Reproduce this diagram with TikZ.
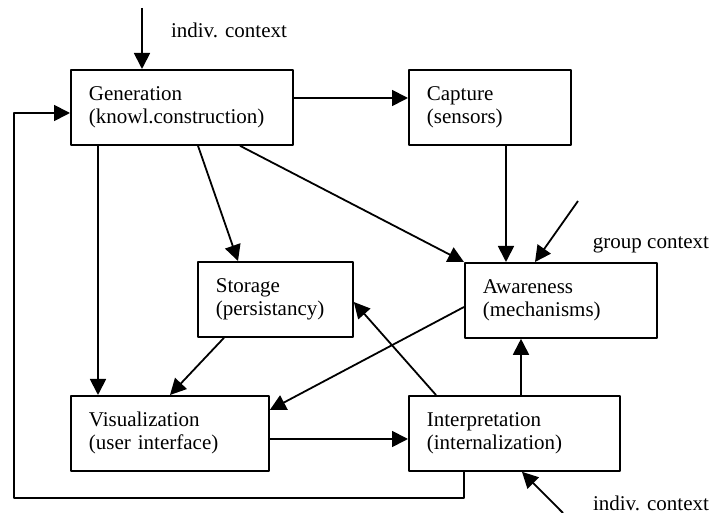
\documentclass[tikz,border=0pt]{standalone}
\usepackage{fontspec}
\setmainfont{Liberation Serif}
\usetikzlibrary{arrows.meta,calc}
\begin{document}
\begin{tikzpicture}[x=0.5pt,y=-0.5pt,font=\fontsize{10.5}{11.5}\selectfont,line join=round,
		>={Triangle[length=8pt,width=8pt]},
		box/.style={draw,line width=0.9pt,rectangle,anchor=north west,align=left,inner xsep=9pt,text width=#1,minimum height=37.5pt},
		arr/.style={->,line width=0.9pt}]
	\useasboundingbox (0,0) rectangle (714,513);
	% boxes
	\node[box=93pt] (gen) at (70,69) {Generation\\(knowl.construction)};
	\node[box=63pt] (cap) at (408,69) {Capture\\(sensors)};
	\node[box=59.5pt] (sto) at (197,261) {Storage\\(persistancy)};
	\node[box=78pt] (aw) at (464,262) {Awareness\\(mechanisms)};
	\node[box=81pt] (vis) at (70,395) {Visualization\\(user interface)};
	\node[box=87.5pt] (int) at (408,395) {Interpretation\\(internalization)};
	% context inputs
	\coordinate (ictop) at (142,8);
	\node (ictxt) at (229,30) {indiv. context};
	\coordinate (gctop) at (578,201);
	\node (gctxt) at (651,245) {group context};
	\coordinate (icbot) at (563,513);
	\node (icbtxt) at (651,503) {indiv. context};
	\coordinate (loopbl) at (14,498);
	\draw[arr] (ictop) -- (ictop |- gen.north);
	\draw[arr] (gctop) -- ($(aw.north west)+(71,0)$);
	\draw[arr] (icbot) -- ($(int.south west)+(114,0)$);
	% flows
	\draw[arr] ($(gen.north east)+(0,29)$) -- ($(cap.north west)+(0,29)$);
	\draw[arr] ($(cap.south west)+(98,0)$) -- ($(aw.north west)+(42,0)$);
	\draw[arr] ($(gen.south west)+(28,0)$) -- ($(vis.north west)+(28,0)$);
	\draw[arr] ($(gen.south west)+(128,0)$) -- ($(sto.north west)+(41,0)$);
	\draw[arr] ($(gen.south west)+(170,0)$) -- (aw.north west);
	\draw[arr] ($(sto.south west)+(27,0)$) -- ($(vis.north west)+(100,0)$);
	\draw[arr] ($(aw.north west)+(0,45)$) -- ($(vis.north east)+(0,15)$);
	\draw[arr] ($(int.north west)+(28,0)$) -- ($(sto.north east)+(0,41)$);
	\draw[arr] ($(int.north west)+(113,0)$) -- ($(aw.south west)+(57,0)$);
	\draw[arr] ($(vis.north east)+(0,44)$) -- ($(int.north west)+(0,44)$);
	\draw[arr] ($(int.south west)+(56,0)$) |- (loopbl) |- ($(gen.north west)+(0,44)$);
\end{tikzpicture}
\end{document}
